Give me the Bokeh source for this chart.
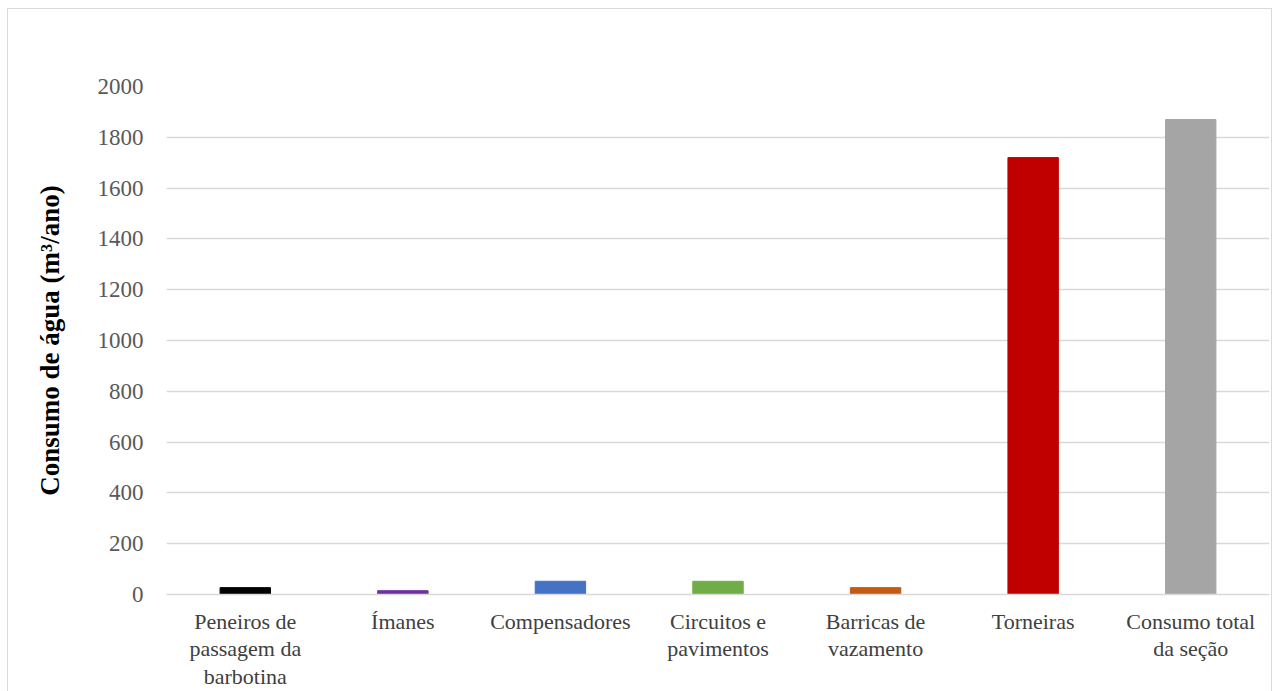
from bokeh.plotting import figure
from bokeh.models import Range1d, ColumnDataSource, InlineStyleSheet
from bokeh.embed import file_html
from bokeh.resources import INLINE

categories = ["Peneiros de\npassagem da\nbarbotina", "Ímanes", "Compensadores",
              "Circuitos e\npavimentos", "Barricas de\nvazamento", "Torneiras",
              "Consumo total\nda seção"]
values = [27, 15, 52, 52, 27, 1720, 1870]
colors = ["#000000", "#7030A0", "#4472C4", "#70AD47", "#C55A11", "#C00000", "#A5A5A5"]
y_ticks = [0, 200, 400, 600, 800, 1000, 1200, 1400, 1600, 1800, 2000]

src = ColumnDataSource(dict(cat=categories, val=values, col=colors))

border_css = InlineStyleSheet(css="""
:host { position: relative; }
:host::after {
  content: ""; position: absolute; left: 7px; top: 8px; right: 5px; bottom: 0px;
  border: 1.3px solid #d9d9d9; border-bottom: none; pointer-events: none;
}
""")

p = figure(width=1277, height=691, x_range=categories, y_range=Range1d(0, 2000),
           output_backend="svg", toolbar_location=None,
           min_border_left=166, min_border_right=8, min_border_top=86, min_border_bottom=90,
           stylesheets=[border_css])
p.vbar(x="cat", top="val", width=0.32, color="col", source=src)

p.outline_line_color = None
p.xgrid.grid_line_color = None
p.ygrid.grid_line_color = "#d9d9d9"
p.ygrid.grid_line_width = 1.3
p.yaxis.ticker = y_ticks
p.yaxis.axis_line_color = None
p.yaxis.major_tick_line_color = None
p.yaxis.minor_tick_line_color = None
p.yaxis.major_label_text_font = "Liberation Serif"
p.yaxis.major_label_text_font_size = "23px"
p.yaxis.major_label_text_color = "#595959"
p.yaxis.major_label_standoff = 17
p.yaxis.axis_label = "Consumo de água (m³/ano)"
p.yaxis.axis_label_text_font = "Liberation Serif"
p.yaxis.axis_label_text_font_style = "bold"
p.yaxis.axis_label_text_font_size = "27px"
p.yaxis.axis_label_text_color = "#000000"
p.yaxis.axis_label_standoff = 30

p.xaxis.axis_line_color = "#d9d9d9"
p.xaxis.axis_line_width = 1.3
p.xaxis.major_tick_line_color = None
p.xaxis.minor_tick_line_color = None
p.xaxis.major_label_text_font = "Liberation Serif"
p.xaxis.major_label_text_font_size = "22px"
p.xaxis.major_label_text_color = "#404040"
p.xaxis.major_label_standoff = 8
p.xaxis.major_label_text_line_height = 1.1

open("out.html", "w").write(file_html(p, INLINE))
